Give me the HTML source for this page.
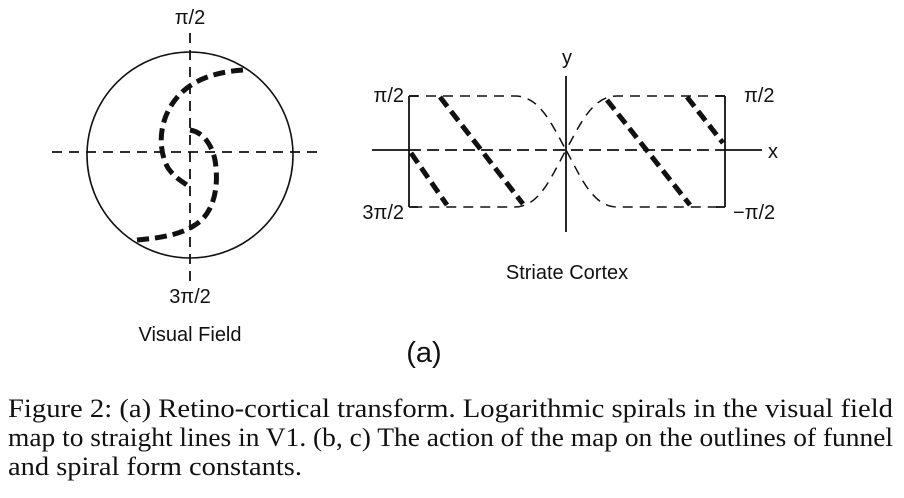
<!DOCTYPE html>
<html><head><meta charset="utf-8"><style>
html,body{margin:0;padding:0;background:#fff;width:904px;height:498px;overflow:hidden}
svg{display:block}
.s{font-family:"Liberation Sans",sans-serif;fill:#111}
.r{font-family:"Liberation Serif",serif;fill:#111}
</style></head><body>
<svg width="904" height="498" viewBox="0 0 904 498" xmlns="http://www.w3.org/2000/svg">
<circle cx="190" cy="155" r="103" fill="none" stroke="#111" stroke-width="1.6"/>
<line x1="52" y1="152" x2="322" y2="152" stroke="#111" stroke-width="1.8" stroke-dasharray="10,7"/>
<line x1="190" y1="33" x2="190" y2="285" stroke="#111" stroke-width="1.8" stroke-dasharray="10,7"/>
<path d="M243,70 C215,72 190,80 175,100 C158,122 158,150 168,168 C175,178 183,182 187,185" fill="none" stroke="#111" stroke-width="5" stroke-dasharray="12,6"/>
<path d="M190,130 C203,132 212,145 215,160 C220,190 212,215 195,225 C180,235 160,238 137,240" fill="none" stroke="#111" stroke-width="5" stroke-dasharray="12,6"/>
<text x="190" y="24" class="s" font-size="20" text-anchor="middle">π/2</text>
<text x="190" y="303" class="s" font-size="20" text-anchor="middle">3π/2</text>
<text x="190" y="341" class="s" font-size="20" text-anchor="middle">Visual Field</text>
<line x1="372" y1="150" x2="409" y2="150" stroke="#111" stroke-width="1.8"/>
<line x1="725" y1="150" x2="762" y2="150" stroke="#111" stroke-width="1.8"/>
<line x1="566" y1="76" x2="566" y2="232" stroke="#111" stroke-width="1.8"/>
<path d="M409,96 L409,207" stroke="#111" stroke-width="1.8"/>
<path d="M725,96 L725,207" stroke="#111" stroke-width="1.8"/>
<line x1="409" y1="150" x2="725" y2="150" stroke="#111" stroke-width="1.8" stroke-dasharray="12,6" />
<g fill="none" stroke="#111" stroke-width="1.5" stroke-dasharray="10,7">
<path d="M409,96 L515,96 C540,96 552,125 566,150 C552,175 540,207 515,207 L409,207"/>
<path d="M725,96 L617,96 C592,96 580,125 566,150 C580,175 592,207 617,207 L725,207"/>
</g>
<line x1="409" y1="96" x2="418" y2="96" stroke="#111" stroke-width="1.8"/>
<line x1="409" y1="207" x2="418" y2="207" stroke="#111" stroke-width="1.8"/>
<line x1="716" y1="96" x2="725" y2="96" stroke="#111" stroke-width="1.8"/>
<line x1="716" y1="207" x2="725" y2="207" stroke="#111" stroke-width="1.8"/>
<g stroke="#111" stroke-width="5" stroke-dasharray="12,6">
<line x1="440" y1="97" x2="523" y2="204"/>
<line x1="411" y1="153" x2="447" y2="205"/>
<line x1="607" y1="100" x2="690" y2="205"/>
<line x1="687" y1="97" x2="723" y2="143"/>
</g>
<text x="567" y="64" class="s" font-size="20" text-anchor="middle">y</text>
<text x="768" y="158" class="s" font-size="20">x</text>
<text x="404" y="102" class="s" font-size="20" text-anchor="end">π/2</text>
<text x="404" y="219" class="s" font-size="20" text-anchor="end">3π/2</text>
<text x="744" y="102" class="s" font-size="20">π/2</text>
<text x="733" y="219" class="s" font-size="20">−π/2</text>
<text x="567" y="279" class="s" font-size="20" text-anchor="middle">Striate Cortex</text>
<text x="424" y="362" class="s" font-size="29" text-anchor="middle">(a)</text>
<text x="8" y="417" class="r" font-size="26" textLength="885" lengthAdjust="spacingAndGlyphs">Figure 2: (a) Retino-cortical transform. Logarithmic spirals in the visual field</text>
<text x="8" y="446" class="r" font-size="26" textLength="885" lengthAdjust="spacingAndGlyphs">map to straight lines in V1. (b, c) The action of the map on the outlines of funnel</text>
<text x="8" y="475" class="r" font-size="26" textLength="294" lengthAdjust="spacingAndGlyphs">and spiral form constants.</text>
</svg>
</body></html>
